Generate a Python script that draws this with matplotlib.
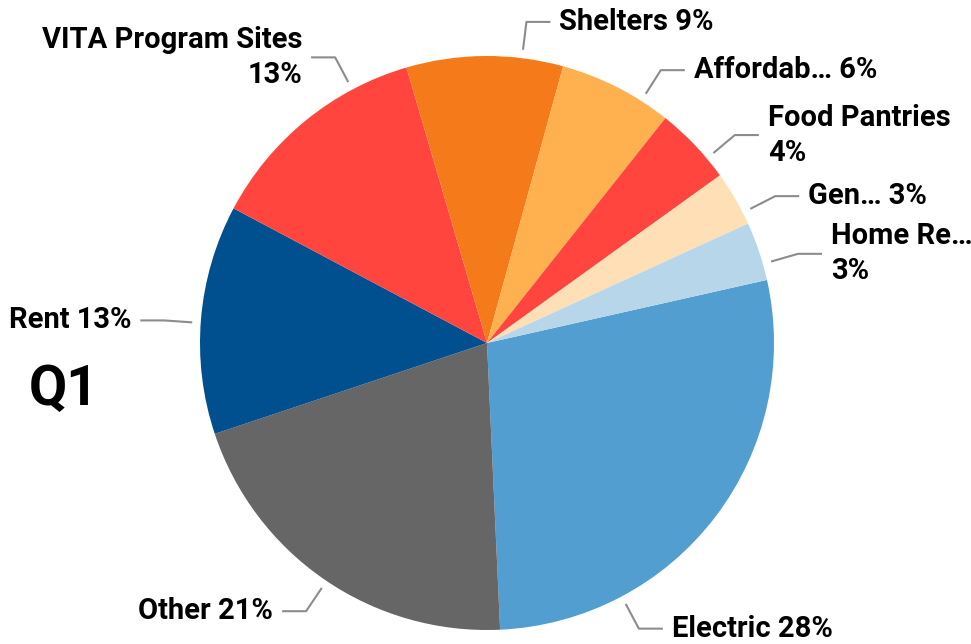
import numpy as np
import matplotlib
matplotlib.use("Agg")
import matplotlib.pyplot as plt

# ---- data ----
categories = ["Electric", "Other", "Rent", "VITA Program Sites", "Shelters",
              "Affordab…", "Food Pantries", "Gen…", "Home Re…"]
values = [27.8, 20.6, 12.9, 12.7, 8.8, 6.4, 4.4, 3.1, 3.3]
colors = ["#529ED0", "#666666", "#00508F", "#FF453D", "#F47A1A",
          "#FFB14F", "#FF453D", "#FFDFB6", "#B8D6EA"]
title = "Q1"

# ---- layout ----
W, H = 971, 644
cx, cy, R = 487, H - 343, 287
start_angle = 12.7
# angles (deg) where label connectors touch the pie (after label de-overlap)
label_angles = [-62, -124, 176, 118, 83, 57.5, 40, 27, 16]
two_line = [False, False, False, True, False, False, True, False, True]

plt.rcParams['font.family'] = ['Roboto', 'DejaVu Sans']
fig = plt.figure(figsize=(W / 100, H / 100), dpi=100)
ax = fig.add_axes([0, 0, 1, 1])
ax.pie(values, colors=colors, startangle=start_angle, counterclock=False,
       radius=R, center=(cx, cy), wedgeprops=dict(linewidth=0))
ax.set_xlim(0, W)
ax.set_ylim(0, H)
ax.set_aspect('equal')
ax.axis('off')

total = sum(values)
for name, v, ang, tl in zip(categories, values, label_angles, two_line):
    pct = round(v / total * 100)
    a = np.deg2rad(ang)
    u = np.array([np.cos(a), np.sin(a)])
    p0 = np.array([cx, cy]) + (R + 8.5) * u
    p1 = np.array([cx, cy]) + (R + 36.5) * u
    side = 1 if u[0] >= 0 else -1
    p2 = p1 + np.array([24 * side, 0])
    ax.plot([p0[0], p1[0], p2[0]], [p0[1], p1[1], p2[1]],
            color="#8c8c8c", lw=1.5, solid_capstyle='butt')
    txt = f"{name}\n{pct}%" if tl else f"{name} {pct}%"
    ax.text(p2[0] + 9 * side, p2[1], txt, ha='left' if side > 0 else 'right',
            va='center', fontsize=21, fontweight='bold', color='black',
            multialignment='left' if side > 0 else 'right', linespacing=1.32)

ax.text(64, H - 390, title, ha='center', va='center', fontsize=40,
        fontweight='bold', color='black')

fig.savefig("out.png", dpi=100)
